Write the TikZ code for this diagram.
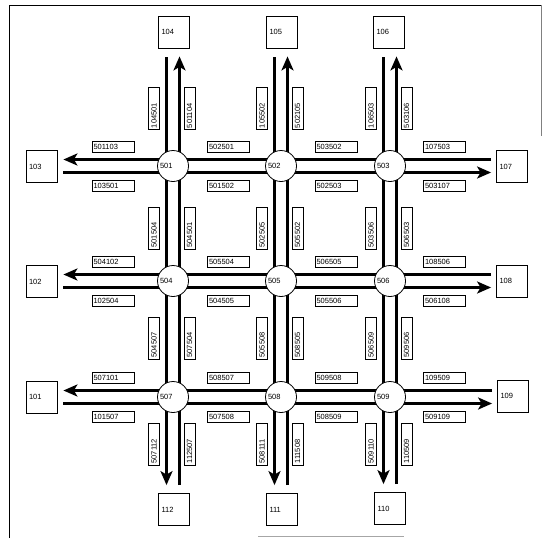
\documentclass[tikz,border=0pt]{standalone}
\usepackage{fontspec}
\newfontfamily\lblfont{Liberation Sans}
\usetikzlibrary{arrows.meta,backgrounds}
\begin{document}
\begin{tikzpicture}[x=1pt,y=-1pt,
  road/.style={line width=3pt},
  oneway/.style={line width=3pt,-{Stealth[length=14pt,width=12pt,inset=3.5pt]}},
  txt/.style={font=\lblfont\fontsize{7.5}{8}\selectfont},
  junction/.style={txt,circle,draw,line width=0.8pt,fill=white,minimum size=31pt,inner sep=0pt,text width=26pt,align=left},
  term/.style={txt,draw,line width=0.8pt,inner xsep=3pt,inner ysep=0pt,text width=25pt,minimum height=32pt,align=left},
  lbl/.style={txt,draw,line width=0.6pt,fill=white,inner xsep=1.5pt,inner ysep=0pt,text width=39pt,minimum height=11pt,align=left},
  vlbl/.style={lbl,rotate=90}]
\useasboundingbox (0,0) rectangle (543,538);
% frame
\draw[line width=1pt] (9,538) -- (9,5) -- (541,5);
\draw[gray, line width=1pt] (541,5) -- (541,136);
\draw[gray!70, line width=0.8pt] (258,536) -- (404,536);

% junctions
\node[junction] (n501) at (173,166) {501};
\node[junction] (n502) at (281,166) {502};
\node[junction] (n503) at (390,166) {503};
\node[junction] (n504) at (173,281) {504};
\node[junction] (n505) at (281,281) {505};
\node[junction] (n506) at (390,281) {506};
\node[junction] (n507) at (173,397) {507};
\node[junction] (n508) at (281,397) {508};
\node[junction] (n509) at (390,397) {509};

% terminals
\node[term] (b104) at (174,32) {104};
\node[term] (b105) at (282,32) {105};
\node[term] (b106) at (389,32) {106};
\node[term] (b112) at (174,509.5) {112};
\node[term] (b111) at (282,509.5) {111};
\node[term] (b110) at (390,508.5) {110};
\node[term] (b103) at (41.5,166.5) {103};
\node[term] (b102) at (41.5,281.5) {102};
\node[term] (b101) at (41.5,397) {101};
\node[term] (b107) at (512,166.5) {107};
\node[term] (b108) at (512,281) {108};
\node[term] (b109) at (513,396) {109};

\begin{pgfonlayer}{background}
% internal horizontal roads
\foreach \a/\b in {n501/n502,n502/n503,n504/n505,n505/n506,n507/n508,n508/n509}{
  \draw[road] ([yshift=6.5pt]\a.center) -- ([yshift=6.5pt]\b.center);
  \draw[road] ([yshift=-6.5pt]\a.center) -- ([yshift=-6.5pt]\b.center);
}
% internal vertical roads
\foreach \a/\b in {n501/n504,n504/n507,n502/n505,n505/n508,n503/n506,n506/n509}{
  \draw[road] ([xshift=6.5pt]\a.center) -- ([xshift=6.5pt]\b.center);
  \draw[road] ([xshift=-6.5pt]\a.center) -- ([xshift=-6.5pt]\b.center);
}
% top
\foreach \n/\t in {n501/b104,n502/b105,n503/b106}{
  \draw[oneway,shorten >=8pt] ([xshift=6.5pt]\n.center) -- ([xshift=6.5pt]\n.center |- \t.south);
  \draw[road,shorten <=9pt] ([xshift=-6.5pt]\n.center |- \t.south) -- ([xshift=-6.5pt]\n.center);
}
% bottom
\foreach \n/\t in {n507/b112,n508/b111,n509/b110}{
  \draw[oneway,shorten >=8pt] ([xshift=-6.5pt]\n.center) -- ([xshift=-6.5pt]\n.center |- \t.north);
  \draw[road,shorten <=8pt] ([xshift=6.5pt]\n.center |- \t.north) -- ([xshift=6.5pt]\n.center);
}
% left
\foreach \n/\t in {n501/b103,n504/b102,n507/b101}{
  \draw[oneway,shorten >=6pt] ([yshift=6.5pt]\n.center) -- ([yshift=6.5pt]\n.center -| \t.east);
  \draw[road,shorten <=6pt] ([yshift=-6.5pt]\n.center -| \t.east) -- ([yshift=-6.5pt]\n.center);
}
% right
\foreach \n/\t in {n503/b107,n506/b108,n509/b109}{
  \draw[oneway,shorten >=5pt] ([yshift=-6.5pt]\n.center) -- ([yshift=-6.5pt]\n.center -| \t.west);
  \draw[road,shorten <=5pt] ([yshift=6.5pt]\n.center -| \t.west) -- ([yshift=6.5pt]\n.center);
}
\end{pgfonlayer}

% horizontal labels
\foreach \y/\aa/\ab/\ba/\bb/\ca/\cb/\da/\db [count=\i] in
  {166/501103/103501/502501/501502/503502/502503/107503/503107,
   281/504102/102504/505504/504505/506505/505506/108506/506108,
   397/507101/101507/508507/507508/509508/508509/109509/509109}{
  \node[lbl] (ha\i) at (113,\y-19.5) {\aa};
  \node[lbl] (hb\i) at (113,\y+19.5) {\ab};
  \node[lbl] (hc\i) at (228.5,\y-19.5) {\ba};
  \node[lbl] (hd\i) at (228.5,\y+19.5) {\bb};
  \node[lbl] (he\i) at (336,\y-19.5) {\ca};
  \node[lbl] (hf\i) at (336,\y+19.5) {\cb};
  \node[lbl] (hg\i) at (444.5,\y-19.5) {\da};
  \node[lbl] (hh\i) at (444.5,\y+19.5) {\db};
}
% vertical labels
\foreach \x/\aa/\ab/\ba/\bb/\ca/\cb/\da/\db [count=\i] in
  {173/104501/501104/501504/504501/504507/507504/507112/112507,
   281/105502/502105/502505/505502/505508/508505/508111/111508,
   390/106503/503106/503506/506503/506509/509506/509110/110509}{
  \node[vlbl] (va\i) at (\x-19,108.5) {\aa};
  \node[vlbl] (vb\i) at (\x+16.5,108.5) {\ab};
  \node[vlbl] (vc\i) at (\x-19,228) {\ba};
  \node[vlbl] (vd\i) at (\x+16.5,228) {\bb};
  \node[vlbl] (ve\i) at (\x-19,338) {\ca};
  \node[vlbl] (vf\i) at (\x+16.5,338) {\cb};
  \node[vlbl] (vg\i) at (\x-19,444) {\da};
  \node[vlbl] (vh\i) at (\x+16.5,444) {\db};
}
\end{tikzpicture}
\end{document}
